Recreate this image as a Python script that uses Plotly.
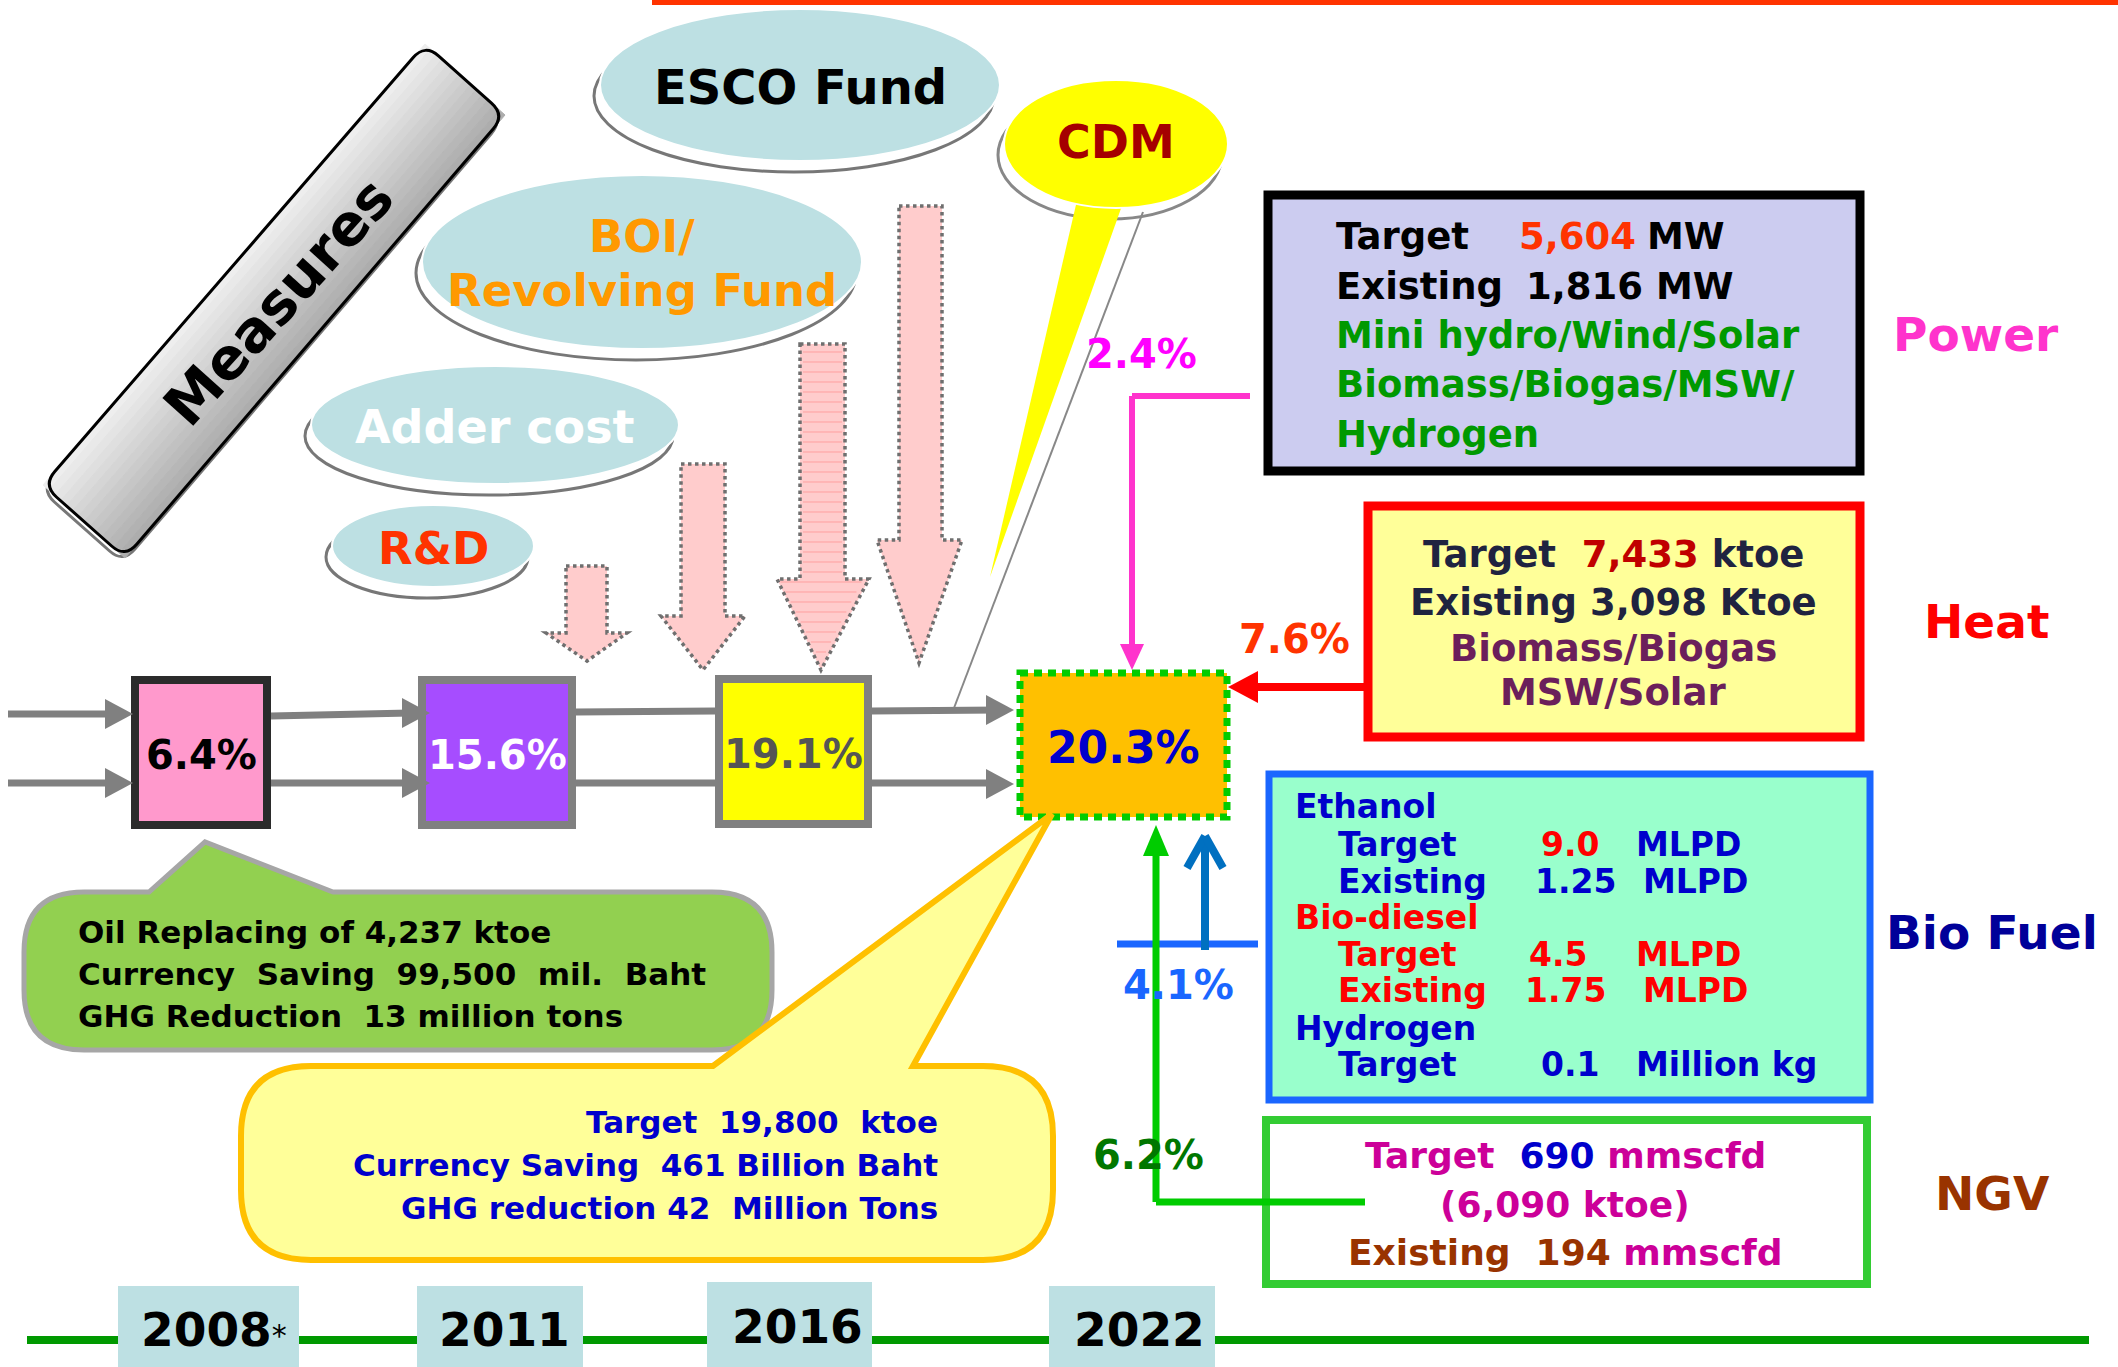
import plotly.graph_objects as go

# ---------------- data ----------------
years = ["2008", "2011", "2016", "2022"]
re_share = [6.4, 15.6, 19.1, 20.3]
measure_names = ["R&D", "Adder cost", "BOI/<br>Revolving Fund", "ESCO Fund", "CDM"]
sectors = ["Power", "Heat", "Bio Fuel", "NGV"]
sector_share = [2.4, 7.6, 4.1, 6.2]

summary_2008 = ["Oil Replacing of 4,237 ktoe",
                "Currency  Saving  99,500  mil.  Baht",
                "GHG Reduction  13 million tons"]
summary_2022 = ["Target  19,800  ktoe",
                "Currency Saving  461 Billion Baht",
                "GHG reduction 42  Million Tons"]

power_target, power_existing, power_unit = "5,604", "1,816", "MW"
power_sources = ["Mini hydro/Wind/Solar", "Biomass/Biogas/MSW/", "Hydrogen"]
heat_target, heat_existing = "7,433", "3,098"
heat_sources = ["Biomass/Biogas", "MSW/Solar"]
biofuel_groups = ["Ethanol", "Bio-diesel", "Hydrogen"]
biofuel_rows = [("Target", "9.0", "MLPD"), ("Existing", "1.25", "MLPD"),
                ("Target", "4.5", "MLPD"), ("Existing", "1.75", "MLPD"),
                ("Target", "0.1", "Million kg")]
ngv_target, ngv_ktoe, ngv_existing = "690", "6,090", "194"

# ---------------- layout / style (pixel space) ----------------
W, H = 2118, 1367
FONT = "DejaVu Sans"
ELL_FILL = "#bde0e3"

shapes = []
anns = []


def nb(s):
    return s.replace(" ", "\u00a0")


def span(s, color):
    return f"<span style='color:{color}'>{nb(s)}</span>"


def line(x0, y0, x1, y1, color, width, dash=None):
    ln = dict(color=color, width=width)
    if dash:
        ln["dash"] = dash
    shapes.append(dict(type="line", xref="x", yref="y", x0=x0, y0=y0, x1=x1, y1=y1, line=ln))


def poly(pts, fill, lc="rgba(0,0,0,0)", lw=0, dash=None):
    path = "M " + " L ".join(f"{x:.1f},{y:.1f}" for x, y in pts) + " Z"
    ln = dict(color=lc, width=lw)
    if dash:
        ln["dash"] = dash
    shapes.append(dict(type="path", xref="x", yref="y", path=path, fillcolor=fill, line=ln))


def rounded(pts, radii, fill, lc, lw):
    n = len(pts)
    path = ""

    def toward(a, b, d):
        dx, dy = b[0] - a[0], b[1] - a[1]
        L = (dx * dx + dy * dy) ** 0.5
        return (a[0] + dx * d / L, a[1] + dy * d / L)
    for i in range(n):
        p0, p1, p2 = pts[i - 1], pts[i], pts[(i + 1) % n]
        r = radii[i]
        if r > 0:
            a = toward(p1, p0, r)
            b = toward(p1, p2, r)
            seg = f"{a[0]:.1f},{a[1]:.1f} Q {p1[0]:.1f},{p1[1]:.1f} {b[0]:.1f},{b[1]:.1f}"
        else:
            seg = f"{p1[0]:.1f},{p1[1]:.1f}"
        path += ("M " if i == 0 else " L ") + seg
    path += " Z"
    shapes.append(dict(type="path", xref="x", yref="y", path=path, fillcolor=fill,
                       line=dict(color=lc, width=lw)))


def rect(x0, y0, x1, y1, fill, lc="rgba(0,0,0,0)", lw=0, dash=None):
    ln = dict(color=lc, width=lw)
    if dash:
        ln["dash"] = dash
    shapes.append(dict(type="rect", xref="x", yref="y", x0=x0, y0=y0, x1=x1, y1=y1,
                       fillcolor=fill, line=ln))


def ell(cx, cy, rx, ry, fill, lc="rgba(0,0,0,0)", lw=0):
    shapes.append(dict(type="circle", xref="x", yref="y", x0=cx - rx, x1=cx + rx,
                       y0=cy - ry, y1=cy + ry, fillcolor=fill, line=dict(color=lc, width=lw)))


def txt(x, y, s, size, color, xanchor="center", angle=0, bold=True):
    anns.append(dict(x=x, y=y, xref="x", yref="y", text=(f"<b>{s}</b>" if bold else s),
                     showarrow=False, xanchor=xanchor, yanchor="middle", textangle=angle,
                     font=dict(family=FONT, size=size, color=color)))


def hex_mix(c0, c1, t):
    a = [int(c0[i:i + 2], 16) for i in (1, 3, 5)]
    b = [int(c1[i:i + 2], 16) for i in (1, 3, 5)]
    return "#" + "".join(f"{round(a[k] + (b[k] - a[k]) * t):02x}" for k in range(3))


# top red rule
line(652, 2, W, 2, "#ff3300", 6)

# ---- "Measures" banner ----
A, B, C, D = (425, 44), (505, 115), (125, 558), (43, 485)
rounded([(x - 2, y + 5) for x, y in (A, B, C, D)], [18] * 4, "rgba(0,0,0,0)", "#777777", 3)
N = 14
for i in range(N):
    t0, t1 = i / N, (i + 1) / N
    p = lambda P, Q, t: (P[0] + (Q[0] - P[0]) * t, P[1] + (Q[1] - P[1]) * t)
    col = hex_mix("#f0f0f0", "#ababab", (i + 0.5) / N)
    poly([p(A, B, t0), p(A, B, t1), p(D, C, t1), p(D, C, t0)], col, col, 1)
rounded([A, B, C, D], [18] * 4, "rgba(0,0,0,0)", "#000000", 3)
txt(278, 302, "Measures", 57, "#000000", angle=-48)

# ---- measure ellipses ----
measure_geom = [(433, 546, 101, 41), (495, 425, 184, 59), (642, 262, 220, 87), (800, 85, 200, 76)]
measure_col = ["#ff3300", "#ffffff", "#ff9900", "#000000"]
measure_size = [45, 46, 45, 48]
for (cx, cy, rx, ry) in measure_geom:
    ell(cx - 6, cy + 11, rx, ry, "#ffffff", "#777777", 3)
    ell(cx, cy, rx, ry, ELL_FILL, "#ffffff", 2)
for k, (cx, cy, rx, ry) in enumerate(measure_geom):
    parts = measure_names[k].split("<br>")
    if len(parts) == 1:
        txt(cx, cy + 2, parts[0], measure_size[k], measure_col[k])
    else:
        txt(cx, cy - 26, parts[0], measure_size[k], measure_col[k])
        txt(cx, cy + 28, parts[1], measure_size[k], measure_col[k])

# CDM callout
ell(1110, 155, 112, 64, "#ffffff", "#888888", 3)
line(1143, 212, 954, 708, "#888888", 2)
poly([(1078, 196), (1124, 200), (990, 577)], "#ffff00")
ell(1116, 144, 112, 64, "#ffff00", "#ffffff", 2)
txt(1116, 142, measure_names[4], 46, "#a50000")

# ---- pink dotted arrows (one per measure) ----
arrows = [(566, 607, 566, 546, 627, 633, 587, 661),
          (681, 725, 464, 661, 745, 616, 703, 670),
          (800, 845, 344, 777, 869, 579, 821, 670),
          (899, 942, 206, 877, 962, 540, 919, 663)]
for k, (s0, s1, top, h0, h1, hy, tx, ty) in enumerate(arrows):
    poly([(s0, top), (s1, top), (s1, hy), (h1, hy), (tx, ty), (h0, hy), (s0, hy)],
         "#ffcccc", "#6f6f6f", 3.5, "dot")
    if k == 2:
        y = top + 8
        while y < ty - 6:
            if y < hy:
                line(s0 + 3, y, s1 - 3, y, "#ff9f9f", 1)
            else:
                hw = (h1 - h0) / 2 * (ty - y) / (ty - hy) - 4
                line(tx - hw, y, tx + hw, y, "#ff9f9f", 1)
            y += 10

# ---- gray flow lines ----
GR = "#808080"
for (x0, y0, x1, y1) in [(8, 714, 118, 714), (271, 716, 410, 713), (576, 712, 715, 711),
                         (872, 711, 1000, 710), (8, 783, 118, 783), (271, 783, 410, 783),
                         (576, 783, 715, 783), (872, 783, 1000, 783)]:
    line(x0, y0, x1, y1, GR, 7)

# ---- year share boxes ----
box_geom = [(135, 680, 267, 825), (422, 680, 572, 825), (719, 679, 868, 824), (1020, 673, 1227, 817)]
box_fill = ["#ff99cc", "#a64dff", "#ffff00", "#ffc000"]
box_line = ["#2b2b2b", "#808080", "#808080", "#00cc00"]
box_font = ["#000000", "#ffffff", "#555555", "#0000cc"]
box_size = [40, 40, 40, 44]
for k, (x0, y0, x1, y1) in enumerate(box_geom):
    if k == 3:
        rect(x0, y0, x1, y1, box_fill[k], box_line[k], 7, "8px,6px")
    else:
        rect(x0, y0, x1, y1, box_fill[k], box_line[k], 8)

# arrowheads
for (tx, ty) in [(133, 714), (133, 783), (430, 713), (430, 783), (1014, 710), (1014, 784)]:
    poly([(tx, ty), (tx - 28, ty - 15), (tx - 28, ty + 15)], GR)

for k, (x0, y0, x1, y1) in enumerate(box_geom):
    txt((x0 + x1) / 2, (y0 + y1) / 2 + 2, f"{re_share[k]}%", box_size[k], box_font[k])

# ---- callouts ----
rounded([(24, 892), (149, 892), (205, 842), (333, 892), (772, 892), (772, 1050), (24, 1050)],
        [60, 0, 0, 0, 60, 60, 60], "#92d050", "#a6a6a6", 5)
for i, s in enumerate(summary_2008):
    txt(76, 932 + i * 42, nb(s), 31, "#000000", xanchor="left")

rounded([(241, 1066), (713, 1066), (1052, 814), (913, 1066), (1053, 1066), (1053, 1260), (241, 1260)],
        [70, 0, 0, 0, 70, 70, 70], "#ffff99", "#ffc000", 6)
for i, s in enumerate(summary_2022):
    txt(940, 1122 + i * 43, nb(s), 31, "#0000cc", xanchor="right")

# ---- Power ----
rect(1268, 195, 1860, 471, "#ccccf0", "#000000", 9)
line(1250, 396, 1132, 396, "#ff33cc", 6)
line(1132, 396, 1132, 648, "#ff33cc", 6)
poly([(1132, 670), (1120, 644), (1144, 644)], "#ff33cc")
txt(1334, 236, "Target", 37, "#000000", xanchor="left")
txt(1517, 236, power_target, 37, "#ff3300", xanchor="left")
txt(1645, 236, power_unit, 37, "#000000", xanchor="left")
txt(1334, 286, "Existing", 37, "#000000", xanchor="left")
txt(1524, 286, nb(f"{power_existing} {power_unit}"), 37, "#000000", xanchor="left")
for i, s in enumerate(power_sources):
    txt(1334, 335 + i * 49.5, s, 37, "#009900", xanchor="left")

# ---- Heat ----
rect(1368, 506, 1860, 737, "#ffff99", "#ff0000", 9)
line(1364, 687, 1254, 687, "#ff0000", 8)
poly([(1228, 687), (1258, 671), (1258, 703)], "#ff0000")
HC = "#1f2340"
txt(1613, 554, nb("Target  ") + span(heat_target, "#c00000") + nb(" ktoe"), 37, HC)
txt(1613, 602, nb(f"Existing {heat_existing} Ktoe"), 37, HC)
for i, s in enumerate(heat_sources):
    txt(1613, 648 + i * 44, s, 37, "#6b1f5b")

# ---- Bio Fuel ----
rect(1269, 774, 1870, 1100, "#99ffcc", "#1a66ff", 7)
line(1117, 944, 1258, 944, "#1a66ff", 7)
line(1205, 950, 1205, 838, "#0070c0", 8)
line(1187, 868, 1205, 836, "#0070c0", 8)
line(1223, 868, 1205, 836, "#0070c0", 8)
BL, RD = "#0000cc", "#ff0000"
grp_y = [806, 917, 1028]
grp_col = [BL, RD, BL]
for g, yy, c in zip(biofuel_groups, grp_y, grp_col):
    txt(1293, yy, g, 33, c, xanchor="left")
row_y = [844, 881, 954, 990, 1064]
row_col = [(BL, RD, BL), (BL, BL, BL), (RD, RD, RD), (RD, RD, RD), (BL, BL, BL)]
val_x = [1539, 1533, 1527, 1523, 1539]
unit_x = [1634, 1641, 1634, 1641, 1634]
for i, (lab, val, unit) in enumerate(biofuel_rows):
    txt(1336, row_y[i], lab, 33, row_col[i][0], xanchor="left")
    txt(val_x[i], row_y[i], val, 33, row_col[i][1], xanchor="left")
    txt(unit_x[i], row_y[i], nb(unit), 33, row_col[i][2], xanchor="left")

# ---- NGV ----
rect(1266, 1120, 1867, 1284, "#ffffff", "#33cc33", 8)
line(1365, 1202, 1156, 1202, "#00cc00", 7)
line(1156, 1202, 1156, 850, "#00cc00", 7)
poly([(1156, 825), (1143, 856), (1169, 856)], "#00cc00")
MG, BR = "#cc0099", "#993300"
txt(1565, 1155, nb("Target  ") + span(ngv_target, "#0000cc") + nb(" mmscfd"), 36, MG)
txt(1565, 1204, f"({ngv_ktoe} ktoe)", 36, MG)
txt(1565, 1252, nb(f"Existing  {ngv_existing} ") + span("mmscfd", MG), 36, BR)

# ---- sector labels & contributions ----
sector_xy = [(1976, 334), (1986, 621), (1992, 932), (1992, 1193)]
sector_col = ["#ff33cc", "#ff0000", "#000099", "#993300"]
for s, (x, y), c in zip(sectors, sector_xy, sector_col):
    txt(x, y, s, 47, c)
share_xy = [(1141, 354), (1294, 639), (1178, 985), (1148, 1155)]
share_col = ["#ff00ff", "#ff3300", "#1a66ff", "#007700"]
for v, (x, y), c in zip(sector_share, share_xy, share_col):
    txt(x, y, f"{v}%", 40, c)

# ---- timeline ----
line(27, 1340, 2089, 1340, "#009900", 8)
year_geom = [(118, 1286, 299), (417, 1286, 583), (707, 1282, 872), (1049, 1286, 1215)]
year_text_x = [214, 504, 797, 1139]
for k, (x0, y0, x1) in enumerate(year_geom):
    rect(x0, y0, x1, H + 5, ELL_FILL)
    lab = f"<b>{years[k]}</b>" + ("<span style='font-size:30px'>*</span>" if k == 0 else "")
    anns.append(dict(x=year_text_x[k], y=(1326 if k == 2 else 1329), xref="x", yref="y",
                     text=lab, showarrow=False, xanchor="center", yanchor="middle",
                     font=dict(family=FONT, size=47, color="#000000")))

fig = go.Figure()
fig.add_trace(go.Scatter(x=[0, W], y=[0, H], mode="markers", marker=dict(opacity=0),
                         hoverinfo="skip", showlegend=False))
fig.update_layout(width=W, height=H, margin=dict(l=0, r=0, t=0, b=0),
                  paper_bgcolor="#ffffff", plot_bgcolor="#ffffff",
                  shapes=shapes, annotations=anns, showlegend=False,
                  xaxis=dict(range=[0, W], visible=False, fixedrange=True),
                  yaxis=dict(range=[H, 0], visible=False, fixedrange=True))
fig.write_html("out.html", config={"displayModeBar": False},
               post_script="document.body.style.margin='0';document.body.style.overflow='hidden';")
